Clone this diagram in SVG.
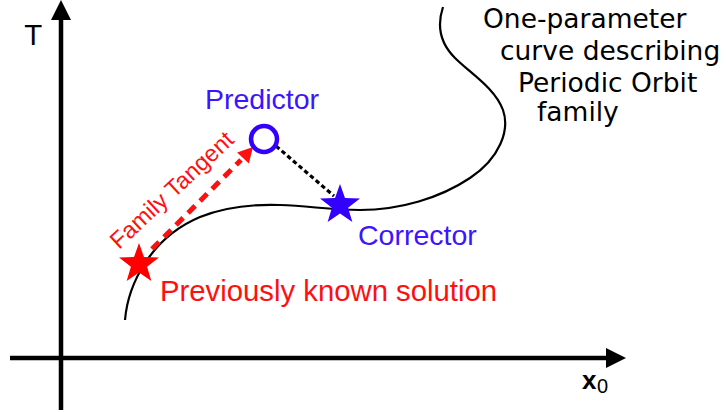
<svg xmlns="http://www.w3.org/2000/svg" width="728" height="412" viewBox="0 0 728 412">
<style>
.lbl{font-family:"Liberation Sans",Arial,sans-serif;font-size:28.5px}
.red{fill:#ff1010}
.blue{fill:#3c14ff}
.note{font-family:"DejaVu Sans",sans-serif;font-size:26.5px;fill:#000}
.axis{stroke:#000;stroke-width:4.5;fill:none}
</style>
<defs>
<path id="star" d="M0,-21 L5,-6.88 L19.97,-6.49 L8.08,2.63 L12.35,16.99 L0,8.5 L-12.35,16.99 L-8.08,2.63 L-19.97,-6.49 L-5,-6.88 Z"/>
</defs>
<g id="axes">
<line class="axis" x1="61" y1="410" x2="61" y2="18"/>
<polygon points="61,0 51,20 71,20" fill="#000"/>
<line class="axis" x1="10" y1="358" x2="609" y2="358"/>
<polygon points="626,358 606,348 606,368" fill="#000"/>
<text x="25" y="45" font-family="DejaVu Sans,sans-serif" font-size="27" fill="#000">T</text>
<text x="582" y="389" font-family="Liberation Sans,Arial,sans-serif" font-size="26" font-weight="bold" fill="#000">x</text>
<text x="597" y="393" font-family="Liberation Sans,Arial,sans-serif" font-size="20" fill="#000">0</text>
</g>
<g id="family-curve">
<path d="M125,320 C128,285 150,238 200,217 C225,207 250,204 280,205 C310,206 330,210 360,210 C400,210 440,198 470,178 C500,158 510,130 503,110 C495,88 470,73 455,58 C440,43 437,25 443,7" fill="none" stroke="#000" stroke-width="2.2"/>
<text class="note" x="483" y="28">One-parameter</text>
<text class="note" x="500" y="60">curve describing</text>
<text class="note" x="518" y="92">Periodic Orbit</text>
<text class="note" x="537" y="121">family</text>
</g>
<g id="connectors">
<line x1="152" y1="249" x2="241" y2="160" stroke="#ff1010" stroke-width="5" stroke-dasharray="10 7"/>
<polygon points="253,147 248.9,163.4 237.1,152.6" fill="#ff1010"/>
<line x1="276" y1="146" x2="334" y2="196" stroke="#000" stroke-width="3.2" stroke-dasharray="4.5 3"/>
</g>
<g id="previous-solution">
<use href="#star" x="139" y="264" fill="#ff0000"/>
<text class="lbl red" x="160" y="301" style="font-size:29.3px">Previously known solution</text>
<text class="red" x="119" y="250" font-family="Liberation Sans,Arial,sans-serif" font-size="23.5" transform="rotate(-43 119 250)">Family Tangent</text>
</g>
<g id="predictor">
<circle cx="264" cy="139" r="13" fill="none" stroke="#3300ff" stroke-width="4.5"/>
<text class="lbl blue" x="205" y="109">Predictor</text>
</g>
<g id="corrector">
<use href="#star" x="340" y="205" fill="#3300ff"/>
<text class="lbl blue" x="358" y="245">Corrector</text>
</g>
</svg>
